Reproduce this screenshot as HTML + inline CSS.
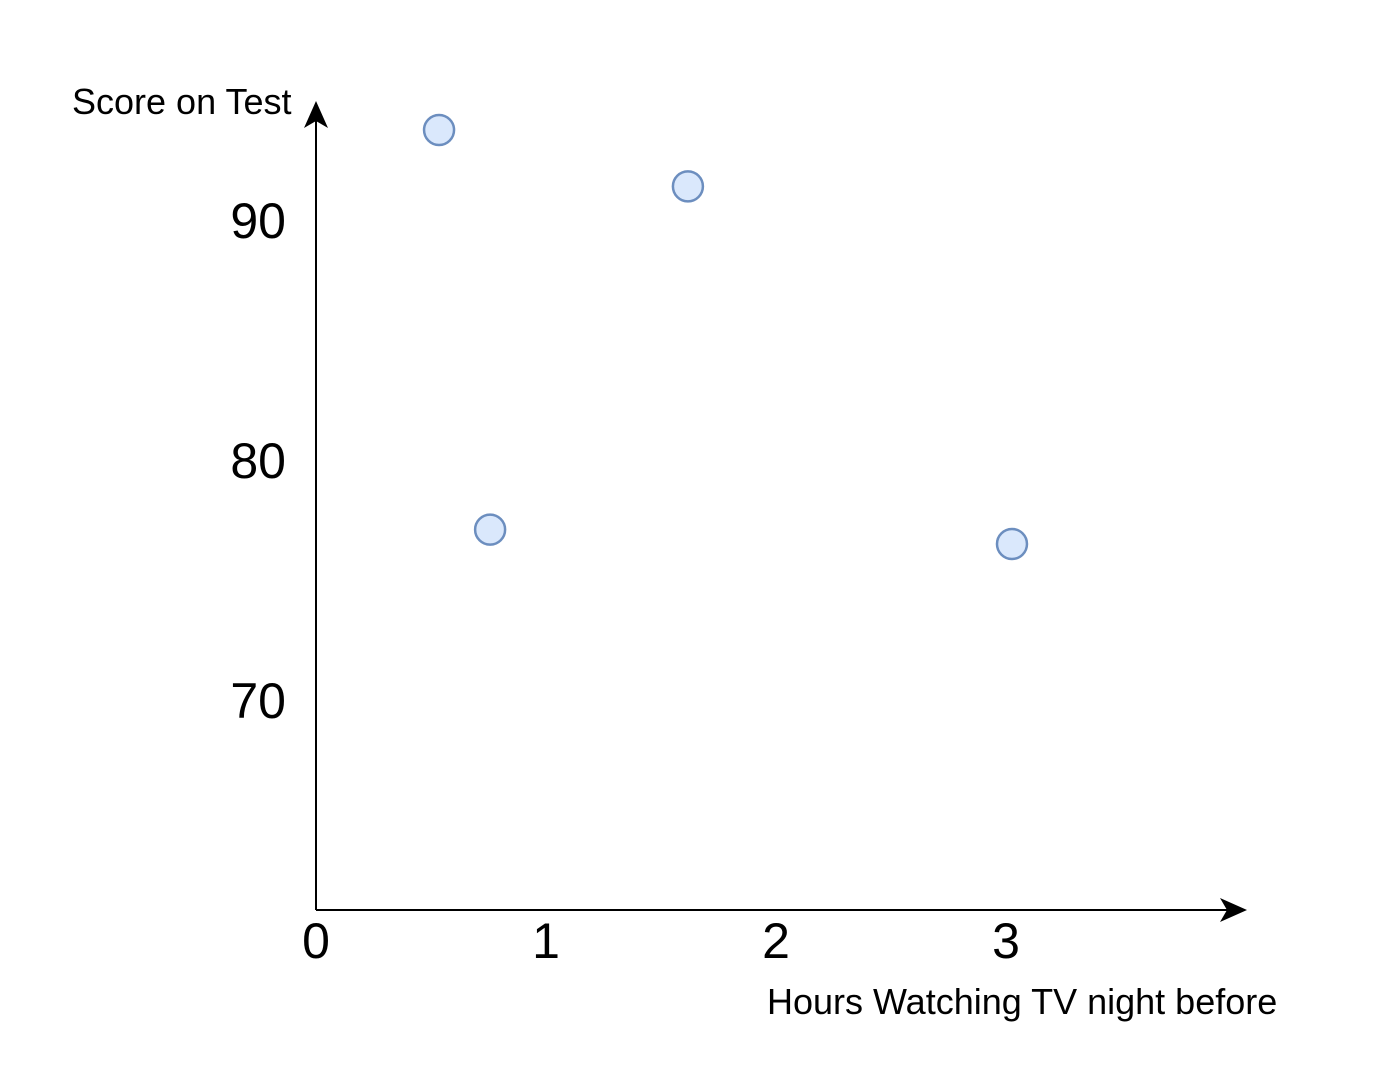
<!DOCTYPE html>
<html><head><meta charset="utf-8"><style>
html,body{margin:0;padding:0;background:#fff;}
svg{display:block;font-family:"Liberation Sans",Arial,sans-serif;}
</style></head><body>
<svg id="chart" width="1384" height="1068" viewBox="0 0 1384 1068">
  <g id="axes"></g>
  <g id="points"></g>
</svg>
<script>
const xTicks = [0, 1, 2, 3];
const yTicks = [70, 80, 90];
const hours = [0.535, 0.757, 1.617, 3.026];
const scores = [93.75, 77.1, 91.4, 76.5];

const NS = 'http://www.w3.org/2000/svg';
const ox = 316, oy = 910;
function xs(v){ return ox + v * 230; }
function ys(v){ return 220 + (90 - v) * 24; }
function mk(tag, attrs, parent){
  const e = document.createElementNS(NS, tag);
  for (const k in attrs) e.setAttribute(k, attrs[k]);
  parent.appendChild(e); return e;
}
const axes = document.getElementById('axes');
const pts = document.getElementById('points');

const ya = mk('line', {x1:ox, y1:oy, x2:ox, y2:112, stroke:'#000', 'stroke-width':2}, axes);


const yarr = mk('path', {d:'M316 101 L328 128 L316 121 L304 128 Z', fill:'#000'}, axes);


const xa = mk('line', {x1:ox, y1:oy, x2:1235, y2:oy, stroke:'#000', 'stroke-width':2}, axes);


const xarr = mk('path', {d:'M1247 910 L1220 898 L1227 910 L1220 922 Z', fill:'#000'}, axes);



xTicks.forEach(v => {
  const t = mk('text', {x:xs(v), y:958, 'font-size':50, 'text-anchor':'middle', fill:'#000'}, axes);
  t.textContent = v;
  
  
});
yTicks.forEach(v => {
  const t = mk('text', {x:286, y:ys(v)+18, 'font-size':50, 'text-anchor':'end', fill:'#000'}, axes);
  t.textContent = v;
  
  
});
const yt = mk('text', {x:72, y:114, 'font-size':36, fill:'#000'}, axes);
yt.textContent = 'Score on Test';


const xt = mk('text', {x:767, y:1014, 'font-size':36, fill:'#000'}, axes);
xt.textContent = 'Hours Watching TV night before';



hours.forEach((h, i) => {
  const c = mk('circle', {cx:xs(h), cy:ys(scores[i]), r:15, fill:'#dae8fc', stroke:'#6c8ebf', 'stroke-width':2.5}, pts);
  
  
});
</script>
</body></html>
